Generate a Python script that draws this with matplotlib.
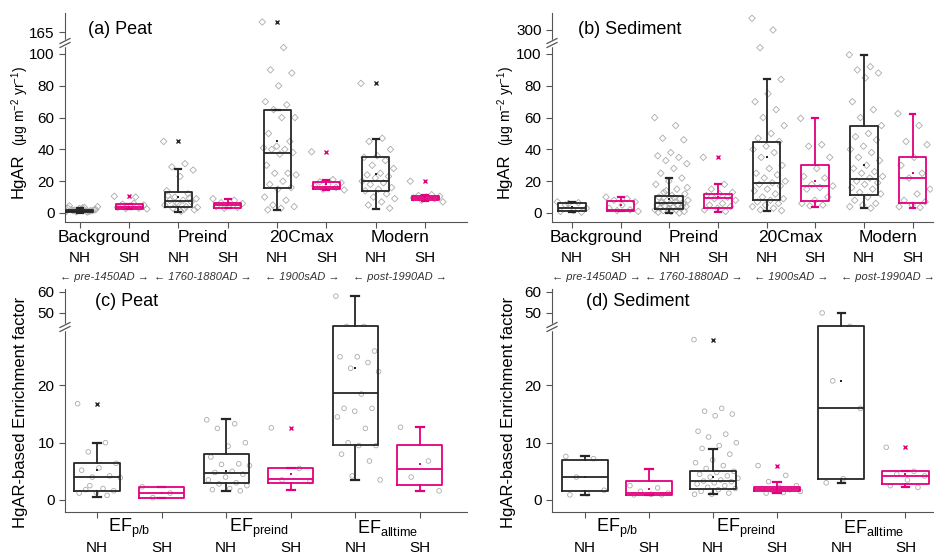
import numpy as np
import matplotlib
matplotlib.use("Agg")
import matplotlib.pyplot as plt
from matplotlib.transforms import blended_transform_factory

plt.rcParams['font.family'] = ['Liberation Sans', 'DejaVu Sans']
plt.rcParams['mathtext.fontset'] = 'custom'
plt.rcParams['mathtext.rm'] = 'Liberation Sans'
plt.rcParams['mathtext.it'] = 'Liberation Sans:italic'

NH_COLOR = '#262626'
SH_COLOR = '#e3007d'
PT_COLOR = '#ababab'

hemis = ['NH', 'SH']
periods = ['pre-1450AD', '1760-1880AD', '1900sAD', 'post-1990AD']

# ---- (a) Peat, HgAR ----
a_groups = ['Background', 'Preind', '20Cmax', 'Modern']
a_lo = [0.3, 2.5, 0.8, 3.0, 2.0, 14.5, 2.5, 7.5]
a_q1 = [0.6, 2.5, 3.5, 3.0, 16.0, 14.8, 14.0, 8.0]
a_med = [1.3, 3.5, 7.5, 5.0, 37.5, 16.5, 20.0, 9.5]
a_q3 = [2.2, 5.5, 13.0, 6.5, 65.0, 19.5, 35.0, 10.8]
a_hi = [3.0, 5.5, 27.5, 8.5, 65.0, 21.0, 46.5, 11.5]
a_mean = [1.5, 4.0, 10.0, 5.5, 45.0, 18.0, 24.5, 10.0]
a_fliers = [[], [10.5], [45], [], [170], [38.5], [81.5], [20]]
a_pts = [
    [0.5, 1, 1.5, 2, 2.5, 3, 1.2, 0.8, 4, 3.5, 2, 1.5, 2.8, 1, 0.6, 1.8, 2.2, 3.2, 4.5, 1.4],
    [10.5, 10, 5.5, 5, 4, 3.5, 3, 2.8, 2.5, 6, 4.5],
    [45, 31, 29, 27, 23, 14, 12, 10, 9, 8, 8, 7, 6, 5, 4, 3, 2, 1, 11, 9.5, 6.5, 3.5, 2.5],
    [9, 8, 6.5, 6, 5, 4, 3.5, 3],
    [170, 104, 90, 88, 80, 70, 68, 65, 60, 60, 50, 45, 42, 41, 40, 40, 38, 37, 30, 25,
     25, 24, 20, 18, 16, 15, 10, 8, 5, 4, 3, 2],
    [38.5, 21, 19.5, 19, 18, 17, 16, 15, 14.5],
    [81.5, 47, 45, 40, 36, 35, 33, 30, 28, 25, 24, 23, 22, 20, 19, 18, 16, 15, 14, 12,
     10, 9, 7, 5, 3],
    [20, 11.5, 11, 10.5, 10, 9.5, 9, 8, 7],
]

# ---- (b) Sediment, HgAR ----
b_lo = [0.5, 1.0, 0.0, 0.8, 1.0, 4.0, 3.0, 3.0]
b_q1 = [1.5, 1.5, 2.5, 3.0, 8.0, 7.5, 11.5, 6.5]
b_med = [3.0, 2.0, 6.3, 9.5, 19.0, 17.0, 21.5, 22.0]
b_q3 = [6.0, 7.5, 10.5, 12.0, 44.5, 30.0, 55.0, 35.0]
b_hi = [7.0, 9.8, 22.0, 18.0, 84.5, 59.5, 99.5, 62.5]
b_mean = [4, 5, 9, 10, 35, 20, 30, 25]
b_fliers = [[], [], [], [35], [], [], [], []]
b_pts = [
    [7, 6.5, 5, 3, 1.5, 1, 0.5, 6],
    [10, 9, 8, 7, 5, 3, 2, 1.5, 1],
    [60, 55, 47, 46, 38, 36, 35, 33, 31, 28, 25, 22, 20, 18, 15, 13, 12, 11, 10, 9, 8, 8,
     7, 7, 6, 6, 5, 5, 4, 4, 3.5, 3, 3, 2.5, 2, 2, 1.5, 1, 1, 0.5, 0, 14, 16, 9.5, 6.5,
     4.5, 2.8],
    [35, 18, 15, 13, 12, 11, 10, 9, 8, 6, 5, 4, 3, 2, 1],
    [340, 300, 104, 84, 75, 70, 65, 60, 55, 50, 47, 45, 42, 40, 38, 35, 30, 28, 25, 24,
     22, 20, 19, 18, 17, 15, 14, 12, 10, 9, 8, 7, 6, 5, 4, 3, 2, 1.5],
    [59.5, 43, 42, 35, 28, 23, 22, 18, 17, 16, 15, 10, 8, 6, 5, 4.5],
    [99.5, 92, 90, 88, 85, 70, 65, 60, 55, 50, 48, 46, 42, 40, 38, 35, 33, 30, 28, 26,
     25, 23, 22, 20, 19, 18, 16, 15, 13, 12, 10, 8, 6, 5, 4, 3],
    [62.5, 55, 45, 43, 35, 30, 25, 22, 15, 12, 8, 7, 5, 4, 3.5],
]

# ---- (c) Peat, enrichment factor ----
ef_groups = [r'EF$_{\mathrm{p/b}}$', r'EF$_{\mathrm{preind}}$', r'EF$_{\mathrm{alltime}}$']
c_lo = [0.6, 0.3, 1.6, 1.7, 3.5, 1.5]
c_q1 = [1.5, 0.3, 2.9, 2.9, 9.6, 2.6]
c_med = [4.0, 1.2, 4.7, 3.7, 18.6, 5.4]
c_q3 = [6.4, 2.3, 8.1, 5.5, 43.6, 9.6]
c_hi = [10.0, 2.3, 14.2, 5.5, 58.0, 12.7]
c_mean = [5.2, 1.3, 5.0, 4.5, 23.0, 6.2]
c_fliers = [[16.8], [], [], [12.6], [], []]
c_pts = [
    [16.8, 10, 8.4, 6.4, 5.6, 5.2, 4.2, 4.0, 3.9, 2.0, 1.8, 1.6, 1.3, 1.2, 0.8, 2.5],
    [2.3, 1.2, 0.4],
    [14, 13.3, 12.5, 10, 9.4, 7.5, 6.3, 6.2, 6, 5, 4.8, 4.5, 4, 3.5, 3, 2.8, 2.5, 2, 1.8, 1.6],
    [12.6, 5.5, 3.5, 3.2],
    [58, 43.6, 43.6, 26, 25, 25, 24, 23, 22.4, 18.5, 16, 16, 15.5, 14.5, 12.5, 10, 9.5,
     9.5, 8, 6.8, 4.2, 3.5],
    [12.7, 6.8, 4, 1.6],
]

# ---- (d) Sediment, enrichment factor ----
d_lo = [0.9, 0.9, 1.0, 1.2, 2.9, 2.2]
d_q1 = [1.5, 0.9, 1.9, 1.5, 3.7, 2.8]
d_med = [4.0, 1.2, 3.3, 1.9, 16.0, 4.1]
d_q3 = [7.0, 3.3, 5.1, 2.3, 43.6, 5.1]
d_hi = [7.6, 5.4, 8.9, 3.2, 50.0, 5.1]
d_mean = [4.0, 2.0, 4.0, 2.0, 20.8, 4.5]
d_fliers = [[], [], [28], [6], [], [9.2]]
d_pts = [
    [7.6, 7.2, 4.0, 1.7, 1.1, 0.9],
    [2.5, 2.1, 1.5, 1.2, 1.0, 0.9, 0.9],
    [28, 16, 15.5, 15, 14.7, 12, 11.5, 11, 10, 9.5, 9, 8, 7, 6.5, 6, 5.5, 5, 4.8, 4.5,
     4.2, 4, 3.8, 3.5, 3.3, 3.2, 3, 2.8, 2.5, 2.2, 2, 1.8, 1.5, 1.2, 1, 1],
    [6, 4.3, 3.2, 2.5, 2.2, 2, 1.8, 1.6, 1.5, 1.3, 1.2],
    [50, 43.6, 20.8, 16, 3.7, 3.0],
    [9.2, 5, 4.5, 4.2, 3.5, 2.5, 2.2],
]

W, H = 934, 557
fig = plt.figure(figsize=(W / 100, H / 100), dpi=100)


def add_axes_px(left, top, right, bottom):
    return fig.add_axes([left / W, 1 - bottom / H, (right - left) / W, (bottom - top) / H])


def draw_boxes(ax, lo, q1, med, q3, hi, mean, fliers, pts, width, marker):
    n = len(lo)
    pos = np.arange(1, n + 1)
    stats = []
    for i in range(n):
        stats.append(dict(whislo=lo[i], q1=q1[i], med=med[i], q3=q3[i], whishi=hi[i],
                          mean=mean[i], fliers=fliers[i]))
    # raw points spread sideways behind the boxes
    for i in range(n):
        k = len(pts[i])
        off = ((np.arange(k) * 0.618034) % 1) * 0.7 - 0.3
        ax.scatter(pos[i] + off, pts[i], s=11, marker=marker, facecolors='none',
                   edgecolors=PT_COLOR, linewidths=0.6, zorder=1)
    r = ax.bxp(stats, positions=pos, widths=width, showmeans=True, manage_ticks=False,
               capwidths=0.12, zorder=3,
               boxprops=dict(linewidth=1.3), whiskerprops=dict(linewidth=1.3),
               capprops=dict(linewidth=1.6), medianprops=dict(linewidth=1.3),
               meanprops=dict(marker='s', markersize=2, markeredgewidth=0),
               flierprops=dict(marker='x', markersize=3, markeredgewidth=1))
    for i in range(n):
        col = NH_COLOR if i % 2 == 0 else SH_COLOR
        r['boxes'][i].set_color(col)
        r['medians'][i].set_color(col)
        r['means'][i].set_markerfacecolor(col)
        r['fliers'][i].set_markeredgecolor(col)
        for a in r['whiskers'][2 * i:2 * i + 2] + r['caps'][2 * i:2 * i + 2]:
            a.set_color(col)


def style(ax_lo, ax_hi, xlim, ylo, yhi, lo_ticks, hi_ticks):
    for ax in (ax_lo, ax_hi):
        ax.set_xlim(*xlim)
        ax.spines['top'].set_visible(False)
        ax.spines['right'].set_visible(False)
        ax.spines['left'].set_color('#555555')
        ax.spines['bottom'].set_color('#555555')
        ax.tick_params(axis='y', direction='out', length=4, labelsize=11, colors='#555555',
                       labelcolor='black')
    ax_lo.set_ylim(*ylo)
    ax_hi.set_ylim(*yhi)
    ax_lo.set_yticks(lo_ticks)
    ax_hi.set_yticks(hi_ticks)
    ax_hi.spines['bottom'].set_visible(False)
    ax_hi.set_xticks([])
    n = int(np.floor(xlim[1]))
    ax_lo.set_xticks(np.arange(1, n + 1))
    ax_lo.set_xticklabels([])
    ax_lo.tick_params(axis='x', direction='out', length=4, colors='#555555')
    # break marks on the left spine
    bb = ax_lo.get_position()
    wpx, hpx = bb.width * W, bb.height * H
    dx, dy = 5 / wpx, 2.5 / hpx
    ax_lo.plot([0, 0], [1 - 2 / hpx, 1 + 2 / hpx], transform=ax_lo.transAxes, color='white',
               lw=2.5, clip_on=False, zorder=5)
    for s in (-2, 2):
        ax_lo.plot([-dx, dx], [1 + s / hpx - dy, 1 + s / hpx + dy], transform=ax_lo.transAxes,
                   color='#555555', lw=0.9, clip_on=False, zorder=6)


def bottom_labels(ax, groups, n_box, y_grp, y_hemi, gsize):
    tr = blended_transform_factory(ax.transData, ax.transAxes)
    for g, name in enumerate(groups):
        ax.text(2 * g + 1.5, y_grp, name, transform=tr, ha='center', va='center', fontsize=gsize)
    for i in range(n_box):
        ax.text(i + 1, y_hemi, hemis[i % 2], transform=tr, ha='center', va='center', fontsize=11)


def period_labels(ax, y):
    tr = blended_transform_factory(ax.transData, ax.transAxes)
    for g, p in enumerate(periods):
        ax.text(2 * g + 1.5, y, '\u2190 ' + p + ' \u2192', transform=tr, ha='center',
                va='center', fontsize=8, style='italic', color='#333333')


# panel a
a_hi_ax = add_axes_px(65, 13, 467, 43)
a_lo_ax = add_axes_px(65, 43, 467, 222)
for ax in (a_lo_ax, a_hi_ax):
    draw_boxes(ax, a_lo, a_q1, a_med, a_q3, a_hi, a_mean, a_fliers, a_pts, 0.55, 'D')
style(a_lo_ax, a_hi_ax, (0.7, 8.85), (-5.66, 106.9), (159.5, 174.5), [0, 20, 40, 60, 80, 100], [165])
bottom_labels(a_lo_ax, a_groups, 8, -0.084, -0.20, 12.5)
period_labels(a_lo_ax, -0.31)

# panel b
b_hi_ax = add_axes_px(552, 13, 933, 43)
b_lo_ax = add_axes_px(552, 43, 933, 222)
for ax in (b_lo_ax, b_hi_ax):
    draw_boxes(ax, b_lo, b_q1, b_med, b_q3, b_hi, b_mean, b_fliers, b_pts, 0.57, 'D')
style(b_lo_ax, b_hi_ax, (0.59, 8.42), (-5.66, 106.9), (255.5, 358), [0, 20, 40, 60, 80, 100], [300])
bottom_labels(b_lo_ax, a_groups, 8, -0.084, -0.20, 12.5)
period_labels(b_lo_ax, -0.31)

# panel c
c_hi_ax = add_axes_px(65, 289, 467, 327)
c_lo_ax = add_axes_px(65, 327, 467, 512)
for ax in (c_lo_ax, c_hi_ax):
    draw_boxes(ax, c_lo, c_q1, c_med, c_q3, c_hi, c_mean, c_fliers, c_pts, 0.7, 'o')
style(c_lo_ax, c_hi_ax, (0.505, 6.73), (-2.1, 30.2), (43.3, 61.4), [0, 10, 20], [50, 60])
bottom_labels(c_lo_ax, ef_groups, 6, -0.086, -0.195, 13)

# panel d
d_hi_ax = add_axes_px(552, 289, 933, 327)
d_lo_ax = add_axes_px(552, 327, 933, 512)
for ax in (d_lo_ax, d_hi_ax):
    draw_boxes(ax, d_lo, d_q1, d_med, d_q3, d_hi, d_mean, d_fliers, d_pts, 0.72, 'o')
style(d_lo_ax, d_hi_ax, (0.484, 6.43), (-2.1, 30.2), (43.3, 61.4), [0, 10, 20], [50, 60])
bottom_labels(d_lo_ax, ef_groups, 6, -0.086, -0.195, 13)

# titles
fig.text(88 / W, 1 - 30 / H, '(a) Peat', fontsize=13, va='center')
fig.text(578 / W, 1 - 30 / H, '(b) Sediment', fontsize=13, va='center')
fig.text(95 / W, 1 - 302 / H, '(c) Peat', fontsize=13, va='center')
fig.text(586 / W, 1 - 302 / H, '(d) Sediment', fontsize=13, va='center')

# y labels
for x0 in (18, 504):
    fig.text(x0 / W, 1 - 176 / H, 'HgAR', rotation=90, fontsize=12, ha='center', va='center')
    fig.text((x0 + 2) / W, 1 - 106 / H, '(\u03bcg m$^{-2}$ yr$^{-1}$)', rotation=90, fontsize=10,
             ha='center', va='center')
for x0 in (21, 509):
    fig.text(x0 / W, 1 - 412 / H, 'HgAR-based Enrichment factor', rotation=90, fontsize=12,
             ha='center', va='center')

fig.savefig('out.png', dpi=100)
